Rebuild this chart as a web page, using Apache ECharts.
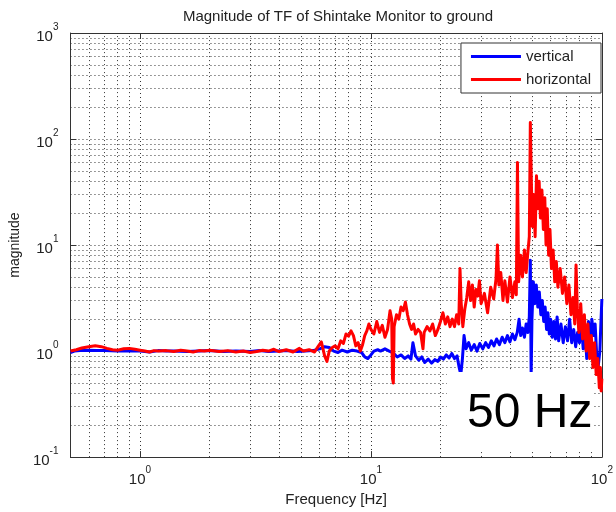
<!DOCTYPE html>
<html><head><meta charset="utf-8">
<script src="https://cdn.jsdelivr.net/npm/echarts@6/dist/echarts.min.js"></script>
<style>html,body{margin:0;padding:0;background:#fff}#c{width:616px;height:512px}</style>
</head><body><div id="c"></div>
<script>
const titleText = 'Magnitude of TF of Shintake Monitor to ground';
const xName = 'Frequency [Hz]';
const yName = 'magnitude';
const seriesNames = ['vertical', 'horizontal'];
const xTickValues = [1, 10, 100];
const yTickValues = [0.1, 1, 10, 100, 1000];
const xMinorGrid = [0.6,0.7,0.8,0.9,2,3,4,5,6,7,8,9,20,30,40,50,60,70,80,90];
const yMinorGrid = [0.2,0.3,0.4,0.5,0.6,0.7,0.8,0.9,2,3,4,5,6,7,8,9,20,30,40,50,60,70,80,90,200,300,400,500,600,700,800,900];
const annotationText = '50 Hz';

const freqV = [0.5,0.52,0.55,0.6,0.65,0.7,0.8,0.9,1.0,1.1,1.2,1.3,1.4,1.6,1.8,2.0,2.3,2.6,3.0,3.3,3.6,4.0,4.4,4.8,5.2,5.6,6.0,6.3,6.6,6.9,7.2,7.5,7.9,8.3,8.7,9.1,9.4,9.7,10.0,10.3,10.7,11.0,11.5,12.0,12.5,13.0,13.5,14.0,14.5,14.9,15.2,15.6,16.1,16.6,17.1,17.7,18.3,18.9,19.5,20.0,20.6,21.2,21.8,22.4,23.0,23.6,24.1,24.5,24.9,25.3,25.8,26.5,27.2,28.0,28.8,29.6,30.5,31.4,32.3,33.2,34.1,35.0,36.0,37.0,38.0,39.0,40.0,41.0,42.0,43.0,43.8,44.5,45.3,46.2,47.0,47.8,48.5,49.0,49.4,49.8,50.5,51.2,52.0,52.8,53.6,54.4,55.2,56.0,56.8,57.6,58.4,59.2,60.0,61.0,62.0,63.0,64.0,65.0,66.5,68.0,69.5,71.0,72.5,74.0,75.5,77.0,78.5,80.0,81.5,83.0,84.5,86.0,87.5,89.0,90.5,92.0,93.5,95.0,96.5,98.0,99.0,100.0];
const magV = [0.97,1.0,1.01,1.02,1.01,1.01,1.0,1.0,1.0,0.98,1.01,1.0,1.0,0.99,1.0,1.01,0.99,1.0,0.99,1.01,0.99,1.0,1.01,0.99,1.0,1.01,1.05,1.1,1.08,1.0,0.97,1.02,0.98,1.02,1.0,0.97,0.88,0.85,0.92,1.0,1.03,1.0,1.05,1.0,0.96,0.88,0.92,0.85,0.9,0.84,1.2,0.9,0.82,0.88,0.78,0.84,0.77,0.83,0.8,0.88,0.84,0.92,0.86,0.95,0.85,0.9,0.7,0.6,0.85,1.4,1.05,1.2,1.02,1.15,1.0,1.18,1.05,1.2,1.08,1.25,1.12,1.3,1.15,1.35,1.2,1.4,1.22,1.45,1.28,1.5,2.0,1.4,1.65,1.35,1.8,1.5,2.1,7.2,0.6,2.0,4.5,2.8,4.2,2.6,3.6,2.2,3.0,1.9,2.6,1.6,2.3,1.45,2.0,1.35,1.9,1.3,2.1,1.25,1.8,1.2,1.7,1.25,2.0,1.2,1.6,1.1,1.5,1.2,1.8,1.05,1.6,0.85,1.9,1.1,2.0,1.4,1.8,0.9,0.73,1.0,1.8,3.1];

const freqH = [0.5,0.53,0.56,0.6,0.64,0.68,0.72,0.76,0.8,0.85,0.9,0.95,1.0,1.05,1.1,1.15,1.2,1.3,1.4,1.5,1.6,1.7,1.8,1.9,2.0,2.2,2.4,2.6,2.8,3.0,3.2,3.4,3.6,3.8,4.0,4.3,4.6,4.9,5.1,5.4,5.7,5.9,6.1,6.3,6.45,6.6,6.8,7.0,7.2,7.4,7.6,7.8,8.0,8.2,8.4,8.6,8.8,9.0,9.2,9.4,9.6,9.8,10.0,10.3,10.6,10.9,11.2,11.5,11.8,12.1,12.3,12.4,12.5,12.6,12.9,13.2,13.5,13.8,14.1,14.4,14.7,15.0,15.3,15.6,16.0,16.4,16.8,17.0,17.5,18.0,18.5,19.0,19.5,20.0,20.5,21.0,21.5,22.0,22.5,23.0,23.5,24.0,24.3,24.6,25.0,25.5,26.0,26.5,27.0,27.5,28.0,28.5,29.0,29.5,30.0,31.0,32.0,33.0,34.0,34.8,35.3,35.8,36.5,37.3,38.0,39.0,40.0,41.0,42.0,42.6,43.1,43.6,44.5,45.3,46.2,47.0,47.8,48.5,49.0,49.5,50.0,50.7,51.4,52.1,52.8,53.5,54.2,55.0,55.8,56.6,57.3,58.0,58.8,59.6,60.5,61.5,62.5,63.5,64.5,66.0,67.5,69.0,70.5,72.0,73.5,75.0,76.3,77.3,78.3,79.5,81.0,82.5,84.0,85.5,87.0,88.5,90.0,91.5,93.0,94.5,96.0,97.5,98.5,99.3,100.0];
const magH = [1.0,1.03,1.07,1.1,1.12,1.1,1.06,1.03,1.02,1.05,1.06,1.04,1.02,1.0,0.98,1.01,1.0,1.01,0.99,1.02,1.0,0.98,1.01,1.0,1.02,0.99,1.01,0.98,1.0,0.97,0.99,1.02,1.0,1.04,0.99,1.03,0.98,1.06,1.0,1.03,0.98,1.1,1.22,0.9,0.8,1.0,1.08,1.12,1.05,1.25,1.18,1.45,1.38,1.55,1.4,1.12,1.2,1.0,1.15,1.4,1.55,1.8,1.6,1.45,1.9,1.5,1.75,1.35,1.6,2.4,2.0,0.55,0.5,1.7,2.2,2.0,2.6,2.4,2.9,2.2,1.8,1.6,1.8,1.45,1.6,1.5,1.05,1.5,1.7,1.55,1.8,1.4,1.6,1.9,2.3,1.8,2.1,1.7,2.0,1.7,2.2,1.8,6.0,2.8,1.7,2.5,3.2,4.5,3.0,4.2,2.6,3.8,3.3,4.6,2.8,3.5,2.3,4.0,3.1,4.8,10,4.2,5.5,3.0,4.6,2.9,5.0,3.2,4.5,3.4,60,4.5,8.0,5.0,9.0,5.5,8.5,12,143,40,15,30,12,45,22,40,18,33,14,28,10,22,8,14,6,9,4.5,7,4,6,3.5,5,2.8,4.2,2.2,3.2,1.8,6.5,2.5,1.5,2.8,1.3,2.2,1.0,1.8,0.85,1.4,0.7,1.2,0.6,0.85,0.45,0.7,0.42,0.55];

const zip = (a, b) => a.map((v, i) => [v, b[i]]);
const FONT = '"Liberation Sans", Arial, Helvetica, sans-serif';
const TXT = '#222';
const AX = '#333';

function powLabel(ticks) {
  return function (v) {
    for (const t of ticks) {
      if (Math.abs(v - t) / t < 1e-6) {
        return '{b|10}{s|' + Math.round(Math.log10(t)) + '}';
      }
    }
    return '';
  };
}
const rich = {
  b: {fontSize: 15, fontFamily: FONT, color: TXT, lineHeight: 22, verticalAlign: 'bottom'},
  s: {fontSize: 10, fontFamily: FONT, color: TXT, lineHeight: 12, verticalAlign: 'top'}
};
const dotted = {type: [1, 3], color: '#333', width: 1};

function mkX(pos, main) {
  return {
    type: 'log', logBase: 10, min: 0.5, max: 100, position: pos,
    axisLine: {show: true, lineStyle: {color: AX, width: 1}},
    axisTick: {show: true, inside: true, length: 6, lineStyle: {color: AX}},
    axisLabel: main ? {show: true, formatter: powLabel(xTickValues), rich: rich, margin: 8} : {show: false},
    splitLine: {show: main, lineStyle: dotted},
    name: main ? xName : '', nameLocation: 'middle', nameGap: 30,
    nameTextStyle: {fontSize: 15, fontFamily: FONT, color: TXT}
  };
}
function mkY(pos, main) {
  return {
    type: 'log', logBase: 10, min: 0.1, max: 1000, position: pos,
    axisLine: {show: true, lineStyle: {color: AX, width: 1}},
    axisTick: {show: true, inside: true, length: 6, lineStyle: {color: AX}},
    axisLabel: main ? {show: true, formatter: powLabel(yTickValues), rich: rich, margin: 12} : {show: false},
    splitLine: {show: main, lineStyle: dotted},
    name: main ? yName : '', nameLocation: 'middle', nameGap: 36, nameRotate: 90,
    nameTextStyle: {fontSize: 14, fontFamily: FONT, color: TXT}
  };
}

const chart = echarts.init(document.getElementById('c'), null, {renderer: 'canvas'});
chart.setOption({
  animation: false,
  backgroundColor: '#fff',
  title: {text: titleText, left: 338, textAlign: 'center', top: 9, padding: 0,
    textStyle: {fontSize: 15, fontWeight: 'normal', fontFamily: FONT, color: TXT}},
  grid: {left: 70, right: 10, top: 33, bottom: 54, containLabel: false},
  legend: {
    data: seriesNames, orient: 'vertical', right: 15, top: 43,
    backgroundColor: '#fff', borderColor: AX, borderWidth: 1,
    padding: [6, 10, 6, 10], itemWidth: 50, itemHeight: 3, itemGap: 8, icon: 'rect',
    selectedMode: false, z: 20,
    textStyle: {fontSize: 15, fontFamily: FONT, color: TXT}
  },
  xAxis: [mkX('bottom', true), mkX('top', false)],
  yAxis: [mkY('left', true), mkY('right', false)],
  series: [
    {
      name: 'grid', type: 'line', data: [[0.5, 0.1]], symbol: 'none', silent: true,
      lineStyle: {width: 0, opacity: 0}, z: 1,
      markLine: {
        silent: true, symbol: ['none', 'none'], label: {show: false}, z: 1, animation: false,
        lineStyle: dotted, emphasis: {disabled: true},
        data: xMinorGrid.map(v => ({xAxis: v})).concat(yMinorGrid.map(v => ({yAxis: v})))
      }
    },
    {
      name: seriesNames[0], type: 'line', data: zip(freqV, magV), symbol: 'none', showSymbol: false,
      color: '#0000ff', lineStyle: {width: 3, color: '#0000ff', join: 'round'}, z: 3
    },
    {
      name: seriesNames[1], type: 'line', data: zip(freqH, magH), symbol: 'none', showSymbol: false,
      color: '#ff0000', lineStyle: {width: 3, color: '#ff0000', join: 'round'}, z: 4
    }
  ],
  graphic: [
    {type: 'rect', shape: {x: 447, y: 372, width: 147, height: 78}, style: {fill: '#fff'}, z: 50, silent: true},
    {type: 'text', x: 467, y: 414, z: 51, silent: true,
      style: {text: annotationText, fontSize: 48, fontFamily: FONT, fill: '#000', verticalAlign: 'middle', align: 'left'}}
  ]
});
</script></body></html>
